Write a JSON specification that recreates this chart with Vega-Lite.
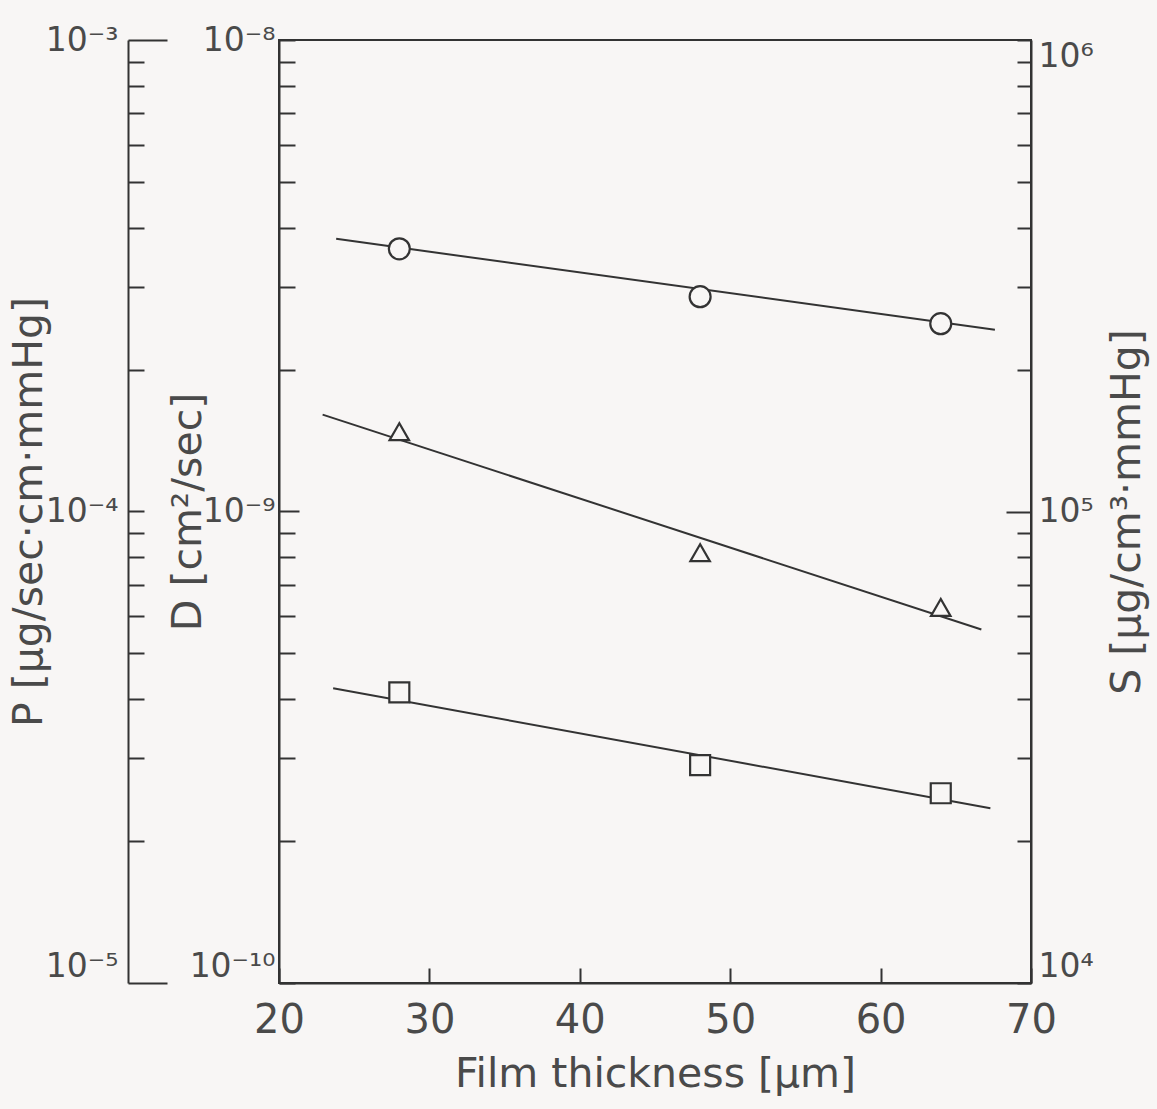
{
  "$schema": "https://vega.github.io/schema/vega-lite/v6.json",
  "width": 752,
  "height": 943,
  "autosize": {"type": "none"},
  "padding": {"left": 279, "top": 40, "right": 126, "bottom": 126},
  "background": "#f8f6f5",
  "config": {
    "font": "DejaVu Sans",
    "view": {"stroke": "#333333", "strokeWidth": 2},
    "axis": {
      "domainColor": "#333333",
      "domainWidth": 2,
      "tickColor": "#333333",
      "tickWidth": 2,
      "grid": false,
      "labelFont": "DejaVu Sans",
      "labelColor": "#4a4a4a",
      "labelFontSize": 33,
      "labelFontWeight": "normal",
      "labelOverlap": false,
      "labelFlush": false,
      "titleFont": "DejaVu Sans",
      "titleColor": "#4a4a4a",
      "titleFontSize": 41,
      "titleFontWeight": "normal"
    }
  },
  "datasets": {
    "P": [
      {"thickness": 28, "P": 0.0001477, "kind": "point"},
      {"thickness": 48, "P": 0.0000818, "kind": "point"},
      {"thickness": 64, "P": 0.0000626, "kind": "point"},
      {"thickness": 22.9, "P": 0.0001605, "kind": "fit"},
      {"thickness": 66.7, "P": 0.0000562, "kind": "fit"}
    ],
    "D": [
      {"thickness": 28, "D": 4.135e-10, "kind": "point"},
      {"thickness": 48, "D": 2.897e-10, "kind": "point"},
      {"thickness": 64, "D": 2.526e-10, "kind": "point"},
      {"thickness": 23.6, "D": 4.217e-10, "kind": "fit"},
      {"thickness": 67.3, "D": 2.348e-10, "kind": "fit"}
    ],
    "S": [
      {"thickness": 28, "S": 360700, "kind": "point"},
      {"thickness": 48, "S": 285500, "kind": "point"},
      {"thickness": 64, "S": 250200, "kind": "point"},
      {"thickness": 23.8, "S": 378700, "kind": "fit"},
      {"thickness": 67.6, "S": 243000, "kind": "fit"}
    ]
  },
  "encoding": {
    "x": {
      "field": "thickness",
      "type": "quantitative",
      "scale": {"domain": [20, 70], "nice": false, "zero": false},
      "axis": {
        "title": "Film thickness [μm]",
        "titleFontSize": 41,
        "titlePadding": 14,
        "values": [20, 30, 40, 50, 60, 70],
        "tickSize": -15,
        "labelFontSize": 40,
        "labelPadding": 32
      }
    }
  },
  "layer": [
    {
      "data": {"name": "P"},
      "encoding": {
        "y": {
          "field": "P",
          "type": "quantitative",
          "scale": {"type": "log", "domain": [0.00001, 0.001], "nice": false},
          "axis": {
            "orient": "left",
            "offset": 151,
            "title": "P [μg/sec·cm·mmHg]",
            "titleX": -78,
            "titleY": 471.5,
            "values": [0.00001, 0.00002, 0.00003, 0.00004, 0.00005, 0.00006, 0.00007, 0.00008, 0.00009, 0.0001, 0.0002, 0.0003, 0.0004, 0.0005, 0.0006, 0.0007, 0.0008, 0.0009, 0.001],
            "labelExpr": "datum.value > 0.00099 ? '10⁻³' : (abs(datum.value - 0.0001) < 0.000000001 ? '10⁻⁴' : (datum.value < 0.0000101 ? '10⁻⁵' : ''))",
            "tickSize": {"condition": {"test": "datum.value > 0.00099 || datum.value < 0.0000101", "value": -39}, "value": -16},
            "labelPadding": {"condition": {"test": "datum.value > 0.00099 || datum.value < 0.0000101", "value": 49}, "value": 26},
            "labelBaseline": {"condition": {"test": "datum.value < 0.0000101", "value": "bottom"}, "value": "middle"}
          }
        }
      },
      "layer": [
        {
          "transform": [{"filter": "datum.kind == 'fit'"}],
          "mark": {"type": "line", "color": "#333333", "strokeWidth": 2}
        },
        {
          "transform": [{"filter": "datum.kind == 'point'"}],
          "mark": {"type": "point", "shape": "triangle-up", "filled": false, "fill": "#f8f6f5", "fillOpacity": 1, "stroke": "#333333", "strokeWidth": 2.2, "opacity": 1, "size": 380}
        }
      ]
    },
    {
      "data": {"name": "D"},
      "encoding": {
        "y": {
          "field": "D",
          "type": "quantitative",
          "scale": {"type": "log", "domain": [1e-10, 1e-8], "nice": false},
          "axis": {
            "orient": "left",
            "title": "D [cm²/sec]",
            "titleX": -70,
            "titleY": 471.5,
            "values": [1e-10, 2e-10, 3e-10, 4e-10, 5e-10, 6e-10, 7e-10, 8e-10, 9e-10, 1e-9, 2e-9, 3e-9, 4e-9, 5e-9, 6e-9, 7e-9, 8e-9, 9e-9, 1e-8],
            "labelExpr": "datum.value > 0.0000000099 ? '10⁻⁸' : (abs(datum.value - 0.000000001) < 0.00000000001 ? '10⁻⁹' : (datum.value < 0.000000000101 ? '10⁻¹⁰' : ''))",
            "tickSize": {"condition": {"test": "abs(datum.value - 0.000000001) < 0.00000000001", "value": -20}, "value": -16},
            "labelPadding": {"condition": {"test": "abs(datum.value - 0.000000001) < 0.00000000001", "value": 24}, "value": 20},
            "labelBaseline": {"condition": {"test": "datum.value < 0.000000000101", "value": "bottom"}, "value": "middle"}
          }
        }
      },
      "layer": [
        {
          "transform": [{"filter": "datum.kind == 'fit'"}],
          "mark": {"type": "line", "color": "#333333", "strokeWidth": 2}
        },
        {
          "transform": [{"filter": "datum.kind == 'point'"}],
          "mark": {"type": "point", "shape": "square", "filled": false, "fill": "#f8f6f5", "fillOpacity": 1, "stroke": "#333333", "strokeWidth": 2.2, "opacity": 1, "size": 400}
        }
      ]
    },
    {
      "data": {"name": "S"},
      "encoding": {
        "y": {
          "field": "S",
          "type": "quantitative",
          "scale": {"type": "log", "domain": [10000, 1000000], "nice": false},
          "axis": {
            "orient": "right",
            "title": "S [μg/cm³·mmHg]",
            "titleAngle": 270,
            "titleBaseline": "top",
            "titleX": 76,
            "titleY": 471.5,
            "values": [10000, 20000, 30000, 40000, 50000, 60000, 70000, 80000, 90000, 100000, 200000, 300000, 400000, 500000, 600000, 700000, 800000, 900000, 1000000],
            "labelExpr": "datum.value > 990000 ? '10⁶' : (abs(datum.value - 100000) < 1 ? '10⁵' : (datum.value < 10100 ? '10⁴' : ''))",
            "tickSize": {"condition": {"test": "abs(datum.value - 100000) < 1", "value": -25}, "value": -14},
            "labelPadding": {"condition": {"test": "abs(datum.value - 100000) < 1", "value": 32}, "value": 21},
            "labelBaseline": {"condition": [{"test": "datum.value < 10100", "value": "bottom"}, {"test": "datum.value > 990000", "value": "top"}], "value": "middle"}
          }
        }
      },
      "layer": [
        {
          "transform": [{"filter": "datum.kind == 'fit'"}],
          "mark": {"type": "line", "color": "#333333", "strokeWidth": 2}
        },
        {
          "transform": [{"filter": "datum.kind == 'point'"}],
          "mark": {"type": "point", "shape": "circle", "filled": false, "fill": "#f8f6f5", "fillOpacity": 1, "stroke": "#333333", "strokeWidth": 2.2, "opacity": 1, "size": 440}
        }
      ]
    }
  ],
  "resolve": {"scale": {"y": "independent"}, "axis": {"y": "independent"}}
}
